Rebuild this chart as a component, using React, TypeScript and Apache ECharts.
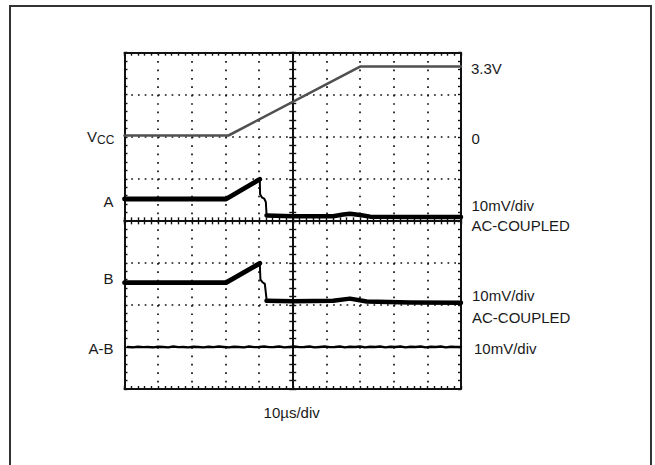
import React, { useEffect, useRef } from "react";
import * as echarts from "echarts";

// time in µs relative to screen centre (10 µs/div), vertical position in divisions from centre
const vccTrace = [[-50, 2.03], [-19.1, 2.03], [20, 3.67], [50, 3.67]];
const aBefore = [[-50, 0.52], [-30, 0.52], [-19.8, 0.52], [-9.8, 0.99]];
const aStep = [[-9.8, 0.99], [-9.7, 0.63], [-9.2, 0.56], [-8.5, 0.53], [-8.0, 0.45], [-7.8, 0.17]];
const aAfter = [[-7.8, 0.13], [0, 0.11], [12, 0.11], [15, 0.15], [17, 0.17], [20, 0.14], [23, 0.1], [35, 0.09], [50, 0.09]];
const bBefore = [[-50, -1.47], [-30, -1.47], [-19.8, -1.47], [-9.8, -1.01]];
const bStep = [[-9.8, -1.01], [-9.6, -1.4], [-9.0, -1.46], [-8.3, -1.5], [-7.8, -1.85]];
const bAfter = [[-7.8, -1.9], [0, -1.91], [12, -1.9], [17, -1.85], [22, -1.92], [35, -1.94], [50, -1.95]];
const abTrace = [
  [-49, -3.0], [-47.5, -3.01], [-46, -2.995], [-44.5, -3.005], [-43, -3.0], [-41.5, -3.01], [-40, -2.995],
  [-38.5, -3.0], [-37, -3.01], [-35.5, -2.99], [-34, -3.005], [-32.5, -3.0], [-31, -3.01], [-29.5, -2.995],
  [-28, -3.0], [-26.5, -3.01], [-25, -2.995], [-23.5, -3.005], [-22, -2.99], [-20.5, -3.0], [-19, -3.01],
  [-17.5, -2.995], [-16, -3.0], [-14.5, -3.01], [-13, -2.99], [-11.5, -3.005], [-10, -3.0], [-8.5, -2.99],
  [-7, -3.005], [-5.5, -3.0], [-4, -2.99], [-2.5, -3.01], [-1, -3.0], [0.5, -2.99], [2, -3.005],
  [3.5, -3.0], [5, -2.99], [6.5, -3.01], [8, -3.0], [9.5, -2.99], [11, -3.005], [12.5, -3.0],
  [14, -2.99], [15.5, -3.01], [17, -2.995], [18.5, -3.0], [20, -2.99], [21.5, -3.01], [23, -2.995],
  [24.5, -3.0], [26, -2.99], [27.5, -3.01], [29, -2.995], [30.5, -3.0], [32, -2.99], [33.5, -3.01],
  [35, -2.995], [36.5, -3.0], [38, -2.99], [39.5, -3.01], [41, -2.995], [42.5, -3.0], [44, -2.99],
  [45.5, -3.01], [47, -2.995], [48.5, -3.0], [50, -3.0],
];

const leftLabels = ["A", "B", "A-B"];
const rightLabels = ["3.3V", "0", "10mV/div", "AC-COUPLED", "10mV/div", "AC-COUPLED", "10mV/div"];
const timeLabel = "10µs/div";

const INK = "#111";
const TEXT = "#1a1a1a";
const FONT = '"Liberation Sans", Arial, sans-serif';

function xAxisDef(position: string, onZero: boolean, inside: boolean, split: boolean, zeroIdx?: number) {
  return {
    type: "value",
    min: -50,
    max: 50,
    interval: 10,
    position,
    axisLabel: { show: false },
    axisLine: {
      show: true,
      onZero,
      ...(zeroIdx !== undefined ? { onZeroAxisIndex: zeroIdx } : {}),
      lineStyle: { color: INK, width: 2 },
    },
    axisTick: { show: true, inside, length: onZero ? 3.5 : 3, lineStyle: { color: INK, width: 1.4 } },
    minorTick: { show: true, splitNumber: 5, length: onZero ? 3.5 : 3, lineStyle: { color: INK, width: 1.4 } },
    splitLine: { show: split, lineStyle: { color: INK, width: 1.7, type: [1.7, 6.71] } },
    minorSplitLine: { show: false },
  };
}

function yAxisDef(position: string, onZero: boolean, inside: boolean, split: boolean, zeroIdx?: number) {
  return {
    type: "value",
    min: -4,
    max: 4,
    interval: 1,
    position,
    axisLabel: { show: false },
    axisLine: {
      show: true,
      onZero,
      ...(zeroIdx !== undefined ? { onZeroAxisIndex: zeroIdx } : {}),
      lineStyle: { color: INK, width: 2 },
    },
    axisTick: { show: true, inside, length: onZero ? 3.5 : 3, lineStyle: { color: INK, width: 1.4 } },
    minorTick: { show: true, splitNumber: 5, length: onZero ? 3.5 : 3, lineStyle: { color: INK, width: 1.4 } },
    splitLine: { show: split, lineStyle: { color: INK, width: 1.7, type: [1.7, 5.03] } },
    minorSplitLine: { show: false },
  };
}

function trace(data: number[][], color: string, width: number) {
  return {
    type: "line",
    data,
    xAxisIndex: 0,
    yAxisIndex: 0,
    symbol: "none",
    lineStyle: { color, width, cap: "round", join: "round" },
    z: 5,
  };
}

function txt(text: string, x: number, y: number, align: string, size = 15) {
  return {
    type: "text",
    x,
    y,
    z: 10,
    style: { text, fill: TEXT, fontSize: size, fontFamily: FONT, align, verticalAlign: "middle" },
  };
}

export default function App() {
  const ref = useRef<HTMLDivElement>(null);
  useEffect(() => {
    if (!ref.current) return;
    const chart = echarts.init(ref.current, undefined, { renderer: "svg" });
    chart.setOption({
      animation: false,
      backgroundColor: "#fff",
      grid: { left: 124.5, top: 52.7, width: 336.5, height: 336.3, containLabel: false },
      xAxis: [
        xAxisDef("bottom", false, true, true),
        xAxisDef("top", false, true, false),
        xAxisDef("bottom", true, false, false, 2),
        xAxisDef("top", true, false, false, 3),
      ],
      yAxis: [
        yAxisDef("left", false, true, true),
        yAxisDef("right", false, true, false),
        yAxisDef("left", true, false, false, 2),
        yAxisDef("right", true, false, false, 3),
      ],
      series: [
        trace(vccTrace, "#505050", 2.6),
        trace(aBefore, "#000", 4.8),
        trace(aStep, "#000", 2),
        trace(aAfter, "#000", 4.5),
        trace(bBefore, "#000", 4.8),
        trace(bStep, "#000", 2),
        trace(bAfter, "#000", 4.5),
        trace(abTrace, "#000", 2.4),
      ],
      graphic: [
        {
          type: "rect",
          shape: { x: 10, y: 6, width: 641, height: 480 },
          style: { fill: "none", stroke: "#333", lineWidth: 2 },
          z: 1,
        },
        txt("V", 97, 136, "right", 15),
        txt("CC", 97, 139.5, "left", 12),
        txt(leftLabels[0], 113.5, 201, "right"),
        txt(leftLabels[1], 113.5, 278.5, "right"),
        txt(leftLabels[2], 113.5, 348, "right"),
        txt(rightLabels[0], 471, 68, "left"),
        txt(rightLabels[1], 471.5, 138, "left"),
        txt(rightLabels[2], 471.5, 205, "left"),
        txt(rightLabels[3], 471.5, 225, "left"),
        txt(rightLabels[4], 472, 295, "left"),
        txt(rightLabels[5], 472, 317, "left"),
        txt(rightLabels[6], 474, 348, "left"),
        txt(timeLabel, 291.7, 412.5, "center"),
      ],
    });
    return () => chart.dispose();
  }, []);
  return (
    <div
      ref={ref}
      style={{ position: "absolute", left: 0, top: 0, width: 655, height: 465, background: "#fff" }}
    />
  );
}
